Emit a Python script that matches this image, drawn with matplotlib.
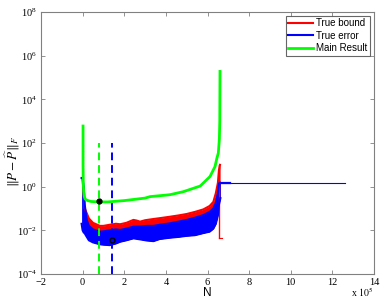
import numpy as np
import matplotlib
matplotlib.use("Agg")
import matplotlib.pyplot as plt
from matplotlib.ticker import LogFormatterMathtext, FixedLocator, FuncFormatter
from matplotlib.lines import Line2D

plt.rcParams['mathtext.fontset'] = 'stix'
plt.rcParams['font.family'] = ['Liberation Serif', 'DejaVu Serif']

# ---- data (N in units of 1e5) ----
green_N = [0.02, 0.02, 0.03, 0.05, 0.08, 0.12, 0.2, 0.4, 0.78, 1.2, 2.0, 3.0, 3.24, 4.0, 4.2, 4.84, 5.65, 6.12, 6.36, 6.45, 6.52, 6.57, 6.59, 6.6]
green_val = [600, 10, 1.5, 0.6, 0.35, 0.27, 0.24, 0.21, 0.2, 0.2, 0.23, 0.3, 0.35, 0.41, 0.43, 0.59, 1.07, 2.9, 8.3, 20, 35, 150, 1000, 1.9e5]

red_N = [0.0, 0.05, 0.1, 0.2, 0.3, 0.5, 0.83, 1.0, 1.3, 1.6, 1.8, 2.1, 2.44, 2.6, 2.76, 3.0, 3.4, 3.7, 4.2, 4.6, 5.0, 5.4, 5.8, 6.1, 6.28, 6.4, 6.5, 6.55, 6.6]
red_upper = [2.0, 0.5, 0.1, 0.06, 0.035, 0.022, 0.016, 0.016, 0.018, 0.02, 0.019, 0.022, 0.03, 0.028, 0.025, 0.029, 0.033, 0.036, 0.042, 0.048, 0.056, 0.07, 0.091, 0.13, 0.2, 0.5, 1.5, 5.8, 10]

blue_N = [-0.05, 0.0, 0.05, 0.1, 0.2, 0.3, 0.5, 0.83, 1.0, 1.3, 1.6, 1.8, 2.1, 2.44, 2.8, 3.1, 3.4, 3.7, 4.2, 4.6, 5.0, 5.4, 5.8, 6.1, 6.28, 6.4, 6.5, 6.55, 6.62]
blue_upper = [2.5, 2.5, 1.0, 0.15, 0.03, 0.016, 0.011, 0.0087, 0.009, 0.01, 0.011, 0.0104, 0.012, 0.0147, 0.015, 0.016, 0.016, 0.018, 0.021, 0.025, 0.03, 0.038, 0.05, 0.07, 0.1, 0.18, 0.5, 1.4, 1.5]
blue_lower = [0.02, 0.01, 0.008, 0.0073, 0.005, 0.0035, 0.0028, 0.0023, 0.0022, 0.0021, 0.0025, 0.003, 0.0035, 0.0043, 0.0038, 0.0034, 0.0032, 0.004, 0.0046, 0.005, 0.0056, 0.006, 0.0075, 0.0087, 0.012, 0.02, 0.05, 0.15, 0.3]

blue_tail_N = [6.6, 12.6]
blue_tail_val = [1.55, 1.55]

red_drop_N = [6.57, 6.57]
red_drop_val = [10, 0.0043]

green_dash_N = 0.78
blue_dash_N = 1.4
dash_range = [1e-4, 1e2]

green_marker = (0.78, 0.21)
blue_marker = (1.4, 0.0036)

xticks = [-2, 0, 2, 4, 6, 8, 10, 12, 14]
yticks = [1e-4, 1e-2, 1e0, 1e2, 1e4, 1e6, 1e8]

RED = '#ff0000'
BLUE = '#0000ff'
GREEN = '#00ff00'

fig = plt.figure(figsize=(3.82, 3.03), dpi=100)
ax = fig.add_axes([41/382, 1-274/303, (374-41)/382, (274-12)/303])
ax.set_yscale('log')

# red band (true bound)
red_lower = np.interp(red_N, blue_N, blue_lower)
ax.fill_between(red_N, red_lower, red_upper, color=RED, lw=0)
ax.plot(red_N, red_upper, color=RED, lw=1.5)
ax.plot([0.02, 0.02], [1, 100], color=RED, lw=0.8, ls=':')
ax.plot(red_drop_N, red_drop_val, color=RED, lw=1.0)
ax.plot([6.57, 6.72], [0.0043, 0.0043], color=RED, lw=0.8)

# blue band (true error)
ax.fill_between(blue_N, blue_lower, blue_upper, color=BLUE, lw=0)
ax.plot(blue_N, blue_upper, color=BLUE, lw=1.5)
ax.plot(blue_N, blue_lower, color=BLUE, lw=1.5)
ax.plot([6.6, 7.1], [1.55, 1.55], color=BLUE, lw=1.6)
ax.plot(blue_tail_N, blue_tail_val, color=BLUE, lw=0.8)

# green main result
ax.plot(green_N, green_val, color=GREEN, lw=2.0)

# dashed vertical lines
ax.plot([green_dash_N]*2, dash_range, color=GREEN, lw=1.4, ls=(0, (4, 2.5)))
ax.plot([blue_dash_N]*2, dash_range, color=BLUE, lw=1.4, ls=(0, (4, 2.5)))

# markers
ax.plot(*green_marker, 'o', color='black', ms=3.5)
ax.plot(*blue_marker, 'o', mfc=BLUE, mec='black', mew=1.0, ms=3.5)

# legend
handles = [Line2D([], [], color=RED, lw=1.5),
           Line2D([], [], color=BLUE, lw=1.5),
           Line2D([], [], color=GREEN, lw=2.0)]
leg = ax.legend(handles, ['True bound', 'True error', 'Main Result'],
                loc='upper right', bbox_to_anchor=(1 - 4/333, 1 - 4/262),
                prop={'family': 'Liberation Sans', 'size': 7},
                frameon=True, fancybox=False, borderpad=0.25,
                handlelength=2.6, handletextpad=0.3, labelspacing=0.25,
                borderaxespad=0.0)
leg.get_frame().set_edgecolor('#404040')
leg.get_frame().set_linewidth(0.8)

ax.set_xlim(-2, 14)
ax.set_ylim(1e-4, 1e8)
ax.xaxis.set_major_locator(FixedLocator(xticks))
ax.yaxis.set_major_locator(FixedLocator(yticks))
ax.yaxis.set_minor_locator(FixedLocator([]))
ax.xaxis.set_major_formatter(FuncFormatter(lambda v, p: f'{int(v)}' if v >= 0 else f'\u2212{int(-v)}'))
ax.yaxis.set_major_formatter(LogFormatterMathtext())
ax.tick_params(axis='both', which='both', direction='in', top=True, right=True,
               length=3, width=0.6, color='#808080', labelsize=7.5, pad=3)
for s in ax.spines.values():
    s.set_color('#808080')
    s.set_linewidth(0.8)

ax.set_xlabel('N', family='Liberation Sans', fontsize=8.5, labelpad=0)
ax.set_ylabel(r'$\|P-\widehat{P}\|_F$', fontsize=9.5)
ax.yaxis.set_label_coords(-0.058, 0.43)

fig.text(351/382, 1-297/303, r'x $10^5$', fontsize=7, ha='left', va='baseline')

fig.savefig('out.png', dpi=100)
